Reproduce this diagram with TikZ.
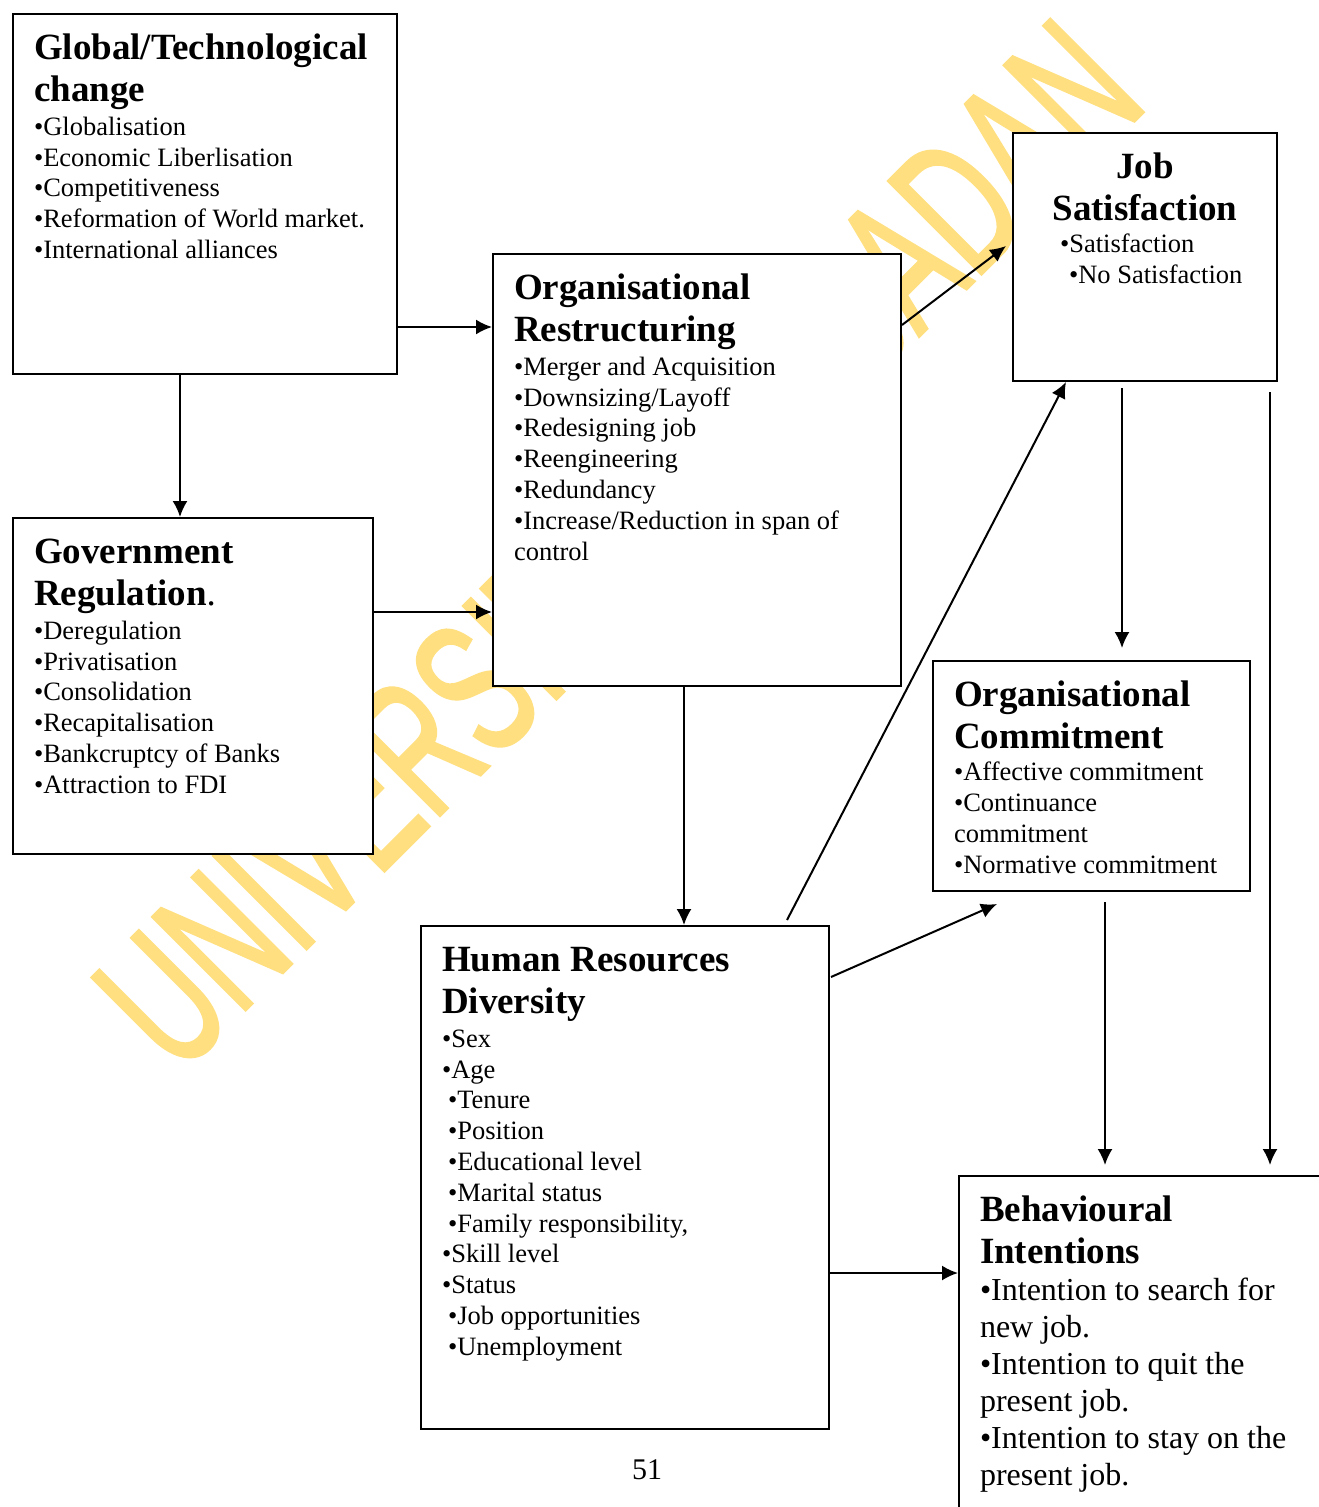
\documentclass[tikz,border=0pt]{standalone}
\usepackage{fontspec}
\setmainfont{Liberation Serif}
\newfontfamily\markfont{Liberation Sans}[FakeBold=2]
\usepackage{tikz}
\usetikzlibrary{positioning,calc,arrows.meta}

\definecolor{stampyellow}{RGB}{255,223,128}
\newcommand{\titlefont}{\fontsize{37}{42}\selectfont\bfseries}
\newcommand{\itemfont}{\fontsize{26.5}{30.8}\selectfont}
\newcommand{\bigitemfont}{\fontsize{32}{37}\selectfont}
\newcommand{\boxtext}[3]{\parbox[c][#2][t]{#1}{\raggedright #3}}

\begin{document}
\begin{tikzpicture}[x=1pt, y=-1pt]
            \tikzstyle{factor} = [draw, line width=2pt, fill=white, inner xsep=21pt, inner ysep=0pt, anchor=north west];
            \tikzstyle{link} = [-{Latex[length=16pt, width=15pt]}, line width=2pt];
            \useasboundingbox (0,0) rectangle (1319,1507);
            \clip (0,0) rectangle (1319,1507);

            % watermark behind the boxes
            \node [anchor=base west, rotate=45, inner sep=0pt, text=stampyellow] (stamp) at (178,1077)
                {\scalebox{0.62}[1]{\markfont\fontsize{190}{190}\selectfont UNIVERSITY OF IBADAN}};

            \node [factor] (glob) at (12,13) {\boxtext{342pt}{360pt}{%
                {\titlefont\rule{0pt}{45pt}Global/Technological\\change\par}\vspace{3.5pt}
                {\itemfont •Globalisation\\•Economic Liberlisation\\•Competitiveness\\•Reformation of World market.\\•International alliances\par}}};

            \node [factor] (restr) at (492,253) {\boxtext{366pt}{432pt}{%
                {\titlefont\rule{0pt}{45pt}Organisational\\Restructuring\par}\vspace{3.5pt}
                {\itemfont •Merger and Acquisition\\•Downsizing/Layoff\\•Redesigning job\\•Reengineering\\•Redundancy\\•Increase/Reduction in span of\\control\par}}};

            \node [factor] (jobsat) at (1012,132) {\boxtext{222pt}{248pt}{%
                {\titlefont\centering\rule{0pt}{45pt}Job\\Satisfaction\par}\vspace{2pt}
                {\itemfont\hspace*{26pt}•Satisfaction\\\hspace*{35pt}•No Satisfaction\par}}};

            \node [factor] (gov) at (12,517) {\boxtext{318pt}{336pt}{%
                {\titlefont\rule{0pt}{45pt}Government\\Regulation{\mdseries.}\par}\vspace{3.5pt}
                {\itemfont •Deregulation\\•Privatisation\\•Consolidation\\•Recapitalisation\\•Bankcruptcy of Banks\\•Attraction to FDI\par}}};

            \node [factor] (orgcom) at (932,660) {\boxtext{275pt}{230pt}{%
                {\titlefont\rule{0pt}{45pt}Organisational\\Commitment\par}\vspace{2pt}
                {\itemfont •Affective commitment\\•Continuance\\commitment\\•Normative commitment\par}}};

            \node [factor] (hrd) at (420,925) {\boxtext{366pt}{503pt}{%
                {\titlefont\rule{0pt}{45pt}Human Resources\\Diversity\par}\vspace{3.5pt}
                {\itemfont •Sex\\•Age\\\hspace*{6pt}•Tenure\\\hspace*{6pt}•Position\\\hspace*{6pt}•Educational level\\\hspace*{6pt}•Marital status\\\hspace*{6pt}•Family responsibility,\\•Skill level\\•Status\\\hspace*{6pt}•Job opportunities\\\hspace*{6pt}•Unemployment\par}}};

            \node [factor] (behav) at (958,1175) {\boxtext{358pt}{400pt}{%
                {\titlefont\rule{0pt}{45pt}Behavioural\\Intentions\par}
                {\bigitemfont •Intention to search for\\new job.\\•Intention to quit the\\present job.\\•Intention to stay on the\\present job.\par}}};

            \node (pagenum) at (647,1470) {\fontsize{30}{30}\selectfont 51};

            \draw [link] ($(glob.south east)+(0,-48)$) coordinate (g1) -- (g1 -| restr.west);
            \draw [link] ($(glob.south west)+(168,0)$) -- ($(gov.north west)+(168,0)$);
            \draw [link] ($(gov.north east)+(0,95)$) coordinate (r1) -- (r1 -| restr.west);
            \draw [link] ($(restr.north east)+(0,72)$) -- ($(jobsat.north west)+(-6,114)$);
            \draw [link] ($(restr.south west)+(192,0)$) coordinate (h1) -- (h1 |- hrd.north);
            \draw [link] ($(hrd.north west)+(367,-5)$) -- ($(jobsat.south west)+(54,0)$);
            \draw [link, shorten >=12pt] ($(jobsat.south west)+(110,6)$) coordinate (c1) -- (c1 |- orgcom.north);
            \draw [link] ($(hrd.north east)+(1,52)$) -- ($(orgcom.south west)+(65,12)$);
            \draw [link, shorten >=10pt] ($(orgcom.south west)+(173,10)$) coordinate (b1) -- (b1 |- behav.north);
            \draw [link, shorten >=10pt] ($(jobsat.south east)+(-8,10)$) coordinate (b2) -- (b2 |- behav.north);
            \draw [link] ($(hrd.north east)+(0,348)$) coordinate (b3) -- (b3 -| behav.west);
        \end{tikzpicture}
\end{document}
